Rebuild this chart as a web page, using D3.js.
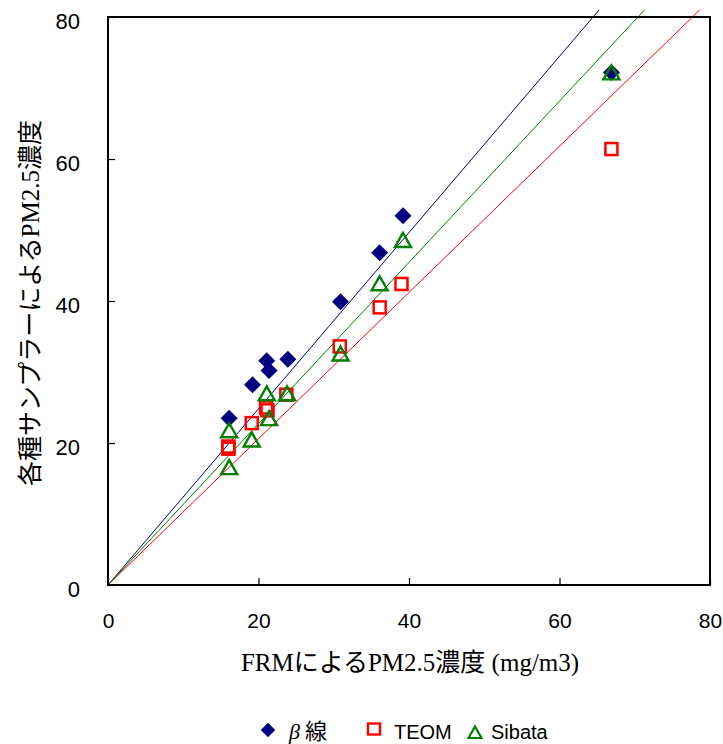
<!DOCTYPE html>
<html>
<head>
<meta charset="utf-8">
<script src="https://cdn.jsdelivr.net/npm/d3@7"></script>
<style>
  html, body { margin: 0; padding: 0; background: #fff; }
  svg { display: block; }
</style>
</head>
<body>
<svg id="chart" width="723" height="744"></svg>
<script>
// FRM reference concentration (x) vs. each sampler's PM2.5 concentration (y)
const betaX  = [16.1, 19.2, 21.1, 21.4, 23.9, 30.9, 36.1, 39.2, 66.9];
const betaY  = [23.5, 28.2, 31.6, 30.2, 31.8, 39.9, 46.8, 52.0, 72.2];
const teomX  = [16.0, 16.0, 19.1, 21.0, 21.2, 23.7, 30.8, 36.1, 39.0, 66.9];
const teomY  = [19.5, 19.2, 22.8, 25.0, 24.6, 26.8, 33.6, 39.1, 42.4, 61.4];
const sibX   = [16.1, 16.1, 19.1, 21.1, 21.4, 23.8, 30.9, 36.1, 39.2, 66.9];
const sibY   = [21.8, 16.6, 20.5, 27.0, 23.5, 27.0, 32.6, 42.5, 48.6, 72.2];
// slopes of the through-origin regression lines: β線, TEOM, Sibata
const trendSlopes = [1.241, 1.030, 1.136];
const seriesNames = ["β線", "TEOM", "Sibata"];
const xTicks = [0, 20, 40, 60, 80];
const yTicks = [0, 20, 40, 60, 80];

const NAVY = "#000080", RED = "#ff0000", GREEN = "#008000";
const svg = d3.select("#chart");
const x = d3.scaleLinear().domain([0, 80]).range([108, 710]);
const y = d3.scaleLinear().domain([0, 80]).range([585, 17]);

// regression lines, running from the origin a little past the top edge
const lineTop = 81.0;
const lineColors = [NAVY, RED, GREEN];
trendSlopes.forEach((s, i) => {
  svg.append("line")
    .attr("x1", x(0)).attr("y1", y(0))
    .attr("x2", x(lineTop / s)).attr("y2", y(lineTop))
    .attr("stroke", lineColors[i]).attr("stroke-width", 1);
});

// axes with inward ticks
const xAxis = svg.append("g").attr("transform", `translate(0,${y(0)})`)
  .call(d3.axisBottom(x).tickValues(xTicks).tickSizeInner(-7).tickSizeOuter(0).tickPadding(28));
const yAxis = svg.append("g").attr("transform", `translate(${x(0)},0)`)
  .call(d3.axisLeft(y).tickValues(yTicks).tickSizeInner(-7).tickSizeOuter(0).tickPadding(28));
[xAxis, yAxis].forEach(g => {
  g.select(".domain").remove();
  g.selectAll(".tick line").attr("stroke", "#000").attr("stroke-width", 1.2);
  g.selectAll("text").attr("fill", "#000")
    .style("font-family", "'Liberation Sans', Arial, sans-serif");
});
xAxis.selectAll("text").style("font-size", "21px");
yAxis.selectAll("text").style("font-size", "22px").attr("dy", "0.5em");

// plot frame
svg.append("rect")
  .attr("x", x(0)).attr("y", y(80))
  .attr("width", x(80) - x(0)).attr("height", y(0) - y(80))
  .attr("fill", "none").attr("stroke", "#000").attr("stroke-width", 2);

// markers
const diamond = "M0,-8.5L8.5,0L0,8.5L-8.5,0Z";
const triangle = "M0,-8L8,6L-8,6Z";
svg.append("g").selectAll("path").data(betaX.map((v, i) => [v, betaY[i]])).join("path")
  .attr("d", diamond).attr("transform", d => `translate(${x(d[0])},${y(d[1])})`)
  .attr("fill", NAVY);
svg.append("g").selectAll("rect").data(teomX.map((v, i) => [v, teomY[i]])).join("rect")
  .attr("x", d => x(d[0]) - 6).attr("y", d => y(d[1]) - 6)
  .attr("width", 12).attr("height", 12)
  .attr("fill", "none").attr("stroke", RED).attr("stroke-width", 2.5);
svg.append("g").selectAll("path").data(sibX.map((v, i) => [v, sibY[i]])).join("path")
  .attr("d", triangle).attr("transform", d => `translate(${x(d[0])},${y(d[1]) + 1})`)
  .attr("fill", "none").attr("stroke", GREEN).attr("stroke-width", 2.4).attr("stroke-linejoin", "miter");

// axis titles: Latin in serif, Japanese in gothic
const JP = "'Noto Sans CJK JP', sans-serif";
const SERIF = "'Liberation Serif', 'Times New Roman', serif";
function richText(sel, parts) {
  parts.forEach(([t, serif]) => sel.append("tspan").text(t).style("font-family", serif ? SERIF : JP));
}
const xt = svg.append("text").attr("x", 410).attr("y", 671)
  .attr("text-anchor", "middle").style("font-size", "25px").attr("fill", "#000");
richText(xt, [["FRM", 1], ["による", 0], ["PM2.5", 1], ["濃度", 0], [" (mg/m3)", 1]]);

const yt = svg.append("text").attr("transform", "translate(39,303) rotate(-90)")
  .attr("text-anchor", "middle").style("font-size", "25px").attr("fill", "#000");
richText(yt, [["各種サンプラーによる", 0], ["PM2.5", 1], ["濃度", 0]]);

// legend
const lg = svg.append("g");
const SANS = "'Liberation Sans', Arial, sans-serif";
lg.append("path").attr("d", diamond).attr("transform", "translate(268,730) scale(0.85)").attr("fill", NAVY);
const l1 = lg.append("text").attr("x", 289).attr("y", 739).style("font-size", "22px").attr("fill", "#000");
l1.append("tspan").text("β").style("font-family", SERIF).style("font-style", "italic");
l1.append("tspan").text(" 線").style("font-family", JP);
lg.append("rect").attr("x", 368).attr("y", 723.5).attr("width", 12).attr("height", 11)
  .attr("fill", "none").attr("stroke", RED).attr("stroke-width", 2.4);
lg.append("text").attr("x", 394).attr("y", 739).text(seriesNames[1])
  .style("font-family", SANS).style("font-size", "20px").attr("fill", "#000");
lg.append("path").attr("d", "M0,-6.5L6.5,5L-6.5,5Z").attr("transform", "translate(475,733)")
  .attr("fill", "none").attr("stroke", GREEN).attr("stroke-width", 2.2);
lg.append("text").attr("x", 491).attr("y", 739).text(seriesNames[2])
  .style("font-family", SANS).style("font-size", "20px").attr("fill", "#000");
</script>
</body>
</html>
